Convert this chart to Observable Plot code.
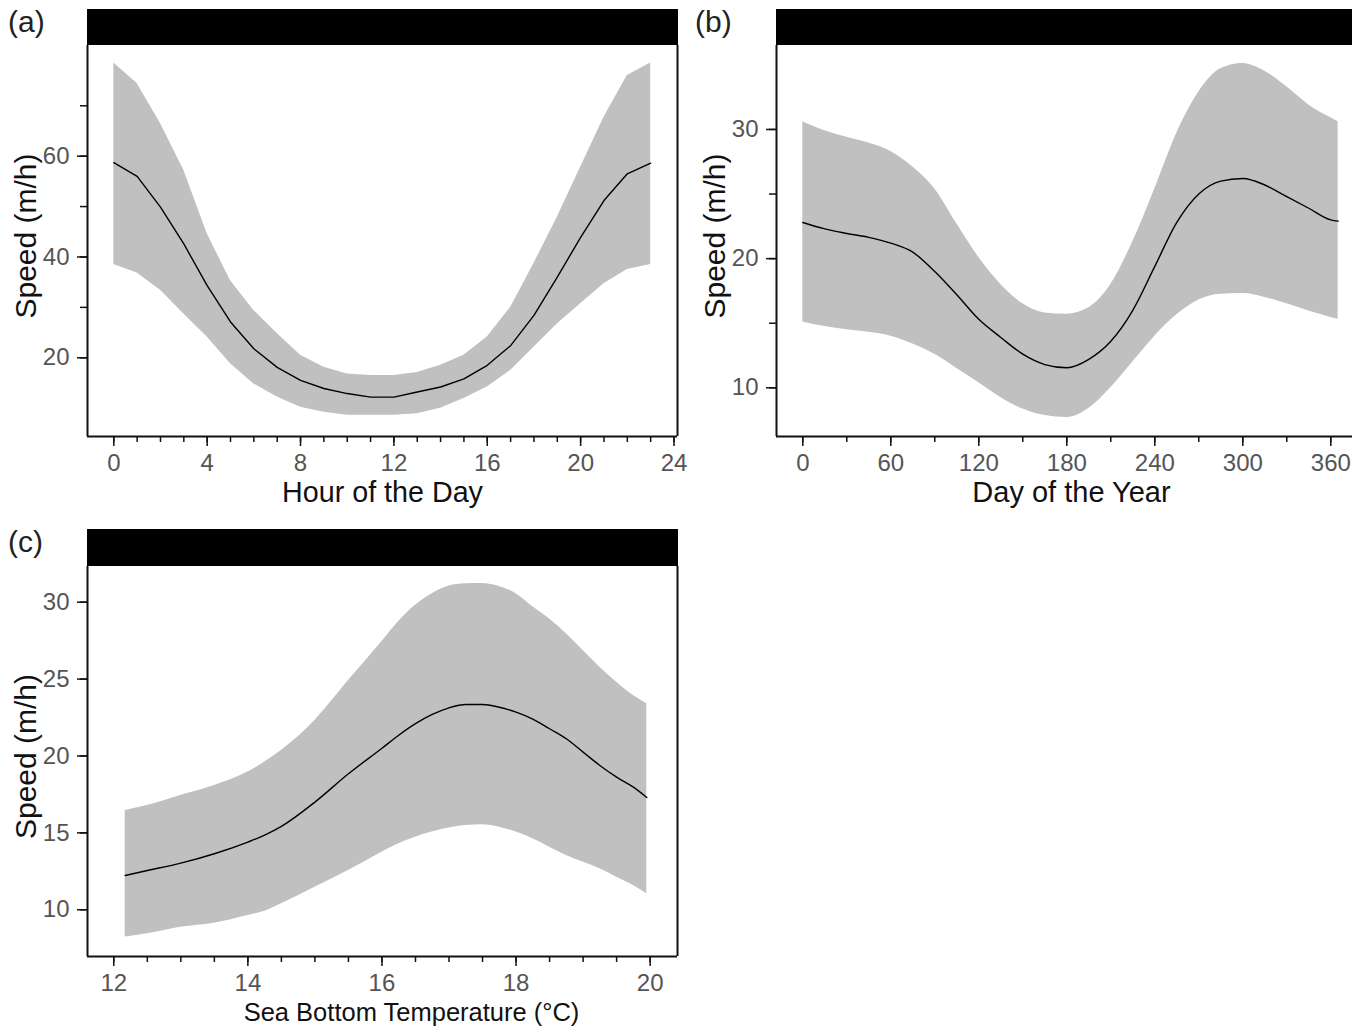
<!DOCTYPE html>
<html>
<head>
<meta charset="utf-8">
<script src="https://cdn.jsdelivr.net/npm/d3@7"></script>
<script src="https://cdn.jsdelivr.net/npm/@observablehq/plot@0.6"></script>
<style>
  html, body { margin: 0; padding: 0; background: #fff; }
  #fig { position: relative; width: 1369px; height: 1033px; overflow: hidden; font-family: "Liberation Sans", Arial, sans-serif; }
  .panel { position: absolute; }
  .strip { position: absolute; background: #000; }
  .tag { position: absolute; font-size: 30px; color: #222; line-height: normal; }
</style>
</head>
<body>
<div id="fig"></div>
<script>
// ---------- Panel (a): Hour of the Day ----------
const hours = [0,1,2,3,4,5,6,7,8,9,10,11,12,13,14,15,16,17,18,19,20,21,22,23];
const hourMean  = [58.7,56.0,49.9,42.6,34.3,27.1,21.8,18.1,15.5,13.9,12.9,12.2,12.2,13.2,14.2,15.8,18.5,22.4,28.4,36.0,43.9,51.2,56.5,58.6];
const hourUpper = [78.5,74.4,66.5,57.2,44.6,35.3,29.4,24.8,20.5,18.1,16.8,16.5,16.5,17.1,18.5,20.5,24.1,30.0,38.7,47.9,57.8,67.7,76.0,78.5];
const hourLower = [38.5,36.8,33.4,28.7,24.1,18.8,14.8,12.2,10.2,9.2,8.6,8.6,8.6,8.9,10.0,11.9,14.2,17.5,22.1,26.7,30.7,34.7,37.5,38.5];
const hourTicksMajor = [0,4,8,12,16,20,24];
const hourTicksMinor = d3.range(0, 25, 1);
const speedTicksA_major = [20,40,60];
const speedTicksA_minor = [20,30,40,50,60,70];

// ---------- Panel (b): Day of the Year ----------
const days = [0,15,30,45,60,75,90,105,120,135,150,165,180,195,210,225,240,255,270,285,300,315,330,345,360,365];
const dayMean  = [22.8,22.3,21.95,21.65,21.2,20.5,19.0,17.2,15.3,13.9,12.6,11.8,11.55,12.2,13.6,16.0,19.4,22.8,25.0,26.0,26.2,25.7,24.8,23.9,23.0,22.9];
const dayUpper = [30.6,29.9,29.4,28.95,28.3,27.1,25.4,22.7,20.1,18.0,16.5,15.8,15.7,16.2,18.0,21.3,25.4,29.7,32.9,34.7,35.1,34.5,33.3,31.9,30.9,30.6];
const dayLower = [15.1,14.75,14.5,14.3,14.0,13.4,12.6,11.5,10.4,9.25,8.35,7.85,7.7,8.4,10.0,12.0,14.0,15.65,16.8,17.25,17.3,17.0,16.5,15.95,15.45,15.3];
const dayTicksMajor = [0,60,120,180,240,300,360];
const dayTicksMinor = d3.range(0, 361, 30);
const speedTicksB_major = [10,20,30];
const speedTicksB_minor = [10,15,20,25,30];

// ---------- Panel (c): Sea Bottom Temperature ----------
const temps = [12.17,12.5,13,13.5,14,14.25,14.5,15,15.5,16,16.25,16.5,16.75,17,17.25,17.5,17.75,18,18.25,18.5,18.75,19,19.25,19.5,19.75,19.95];
const tempMean  = [12.23,12.55,13.03,13.64,14.40,14.85,15.42,17.0,18.84,20.5,21.35,22.1,22.7,23.13,23.35,23.35,23.17,22.85,22.4,21.77,21.12,20.25,19.38,18.62,17.97,17.3];
const tempUpper = [16.46,16.78,17.43,18.08,18.95,19.6,20.36,22.31,24.9,27.45,28.75,29.8,30.55,31.05,31.2,31.22,31.02,30.55,29.7,28.9,27.94,26.86,25.77,24.8,23.93,23.4];
const tempLower = [8.22,8.44,8.87,9.13,9.63,9.9,10.39,11.47,12.55,13.74,14.29,14.72,15.05,15.31,15.48,15.52,15.37,15.05,14.62,14.07,13.53,13.10,12.66,12.12,11.58,11.04];
const tempTicksMajor = [12,14,16,18,20];
const tempTicksMinor = d3.range(12, 20.01, 0.5);
const speedTicksC = [10,15,20,25,30];

const FONT = '"Liberation Sans", Arial, sans-serif';
const BAND = "#c0c0c0";
const TICK_FILL = "#555";
const TITLE_FILL = "#111";

function panel({rows, xDomain, yDomain, xMajor, xMinor, yMajor, yMinor, xTitle, xTitleDx, xTitleSize, curve,
                width, height, margins, rightLine}) {
  const marks = [
    Plot.areaY(rows, {x: "x", y1: "lo", y2: "hi", fill: BAND, curve}),
    Plot.lineY(rows, {x: "x", y: "mean", stroke: "#000", strokeWidth: 1.4, curve}),
    Plot.ruleX([xDomain[0]], {stroke: "#111", strokeWidth: 2}),
    Plot.ruleY([yDomain[0]], {stroke: "#111", strokeWidth: 2}),
    Plot.axisX({ticks: xMinor, tickSize: 6, tickFormat: () => "", label: null, stroke: "#111", strokeWidth: 1.5}),
    Plot.axisX({ticks: xMajor, tickSize: 10, tickPadding: 7, label: null, fontSize: 24, fill: TICK_FILL, stroke: "#111", strokeWidth: 1.5}),
    Plot.axisY({ticks: yMinor, tickSize: 7, tickFormat: () => "", label: null, stroke: "#111", strokeWidth: 1.5}),
    Plot.axisY({ticks: yMajor, tickSize: 10, tickPadding: 8, label: null, fontSize: 24, fill: TICK_FILL, stroke: "#111", strokeWidth: 1.5}),
    Plot.text([xTitle], {frameAnchor: "bottom", lineAnchor: "middle", textAnchor: "middle", dy: 56, dx: xTitleDx, fontSize: xTitleSize, fill: TITLE_FILL}),
    Plot.text(["Speed (m/h)"], {frameAnchor: "left", lineAnchor: "middle", textAnchor: "middle", dx: -61, dy: -5, rotate: -90, fontSize: 30, fill: TITLE_FILL})
  ];
  if (rightLine) marks.push(Plot.ruleX([xDomain[1]], {stroke: "#111", strokeWidth: 2}));
  return Plot.plot({
    width, height,
    marginLeft: margins[0], marginRight: margins[1], marginTop: margins[2], marginBottom: margins[3],
    x: {domain: xDomain},
    y: {domain: yDomain},
    style: {fontFamily: FONT, background: "transparent", overflow: "visible"},
    marks
  });
}

const fig = document.getElementById("fig");
function place(el, left, top) {
  el.classList.add("panel");
  el.style.left = left + "px";
  el.style.top = top + "px";
  fig.appendChild(el);
}
function strip(left, top, w, h) {
  const d = document.createElement("div");
  d.className = "strip";
  Object.assign(d.style, {left: left + "px", top: top + "px", width: w + "px", height: h + "px"});
  fig.appendChild(d);
}
function tag(txt, left, top) {
  const d = document.createElement("div");
  d.className = "tag";
  d.textContent = txt;
  Object.assign(d.style, {left: left + "px", top: top + "px"});
  fig.appendChild(d);
}

const rowsA = hours.map((x, i) => ({x, mean: hourMean[i], hi: hourUpper[i], lo: hourLower[i]}));
const rowsB = days.map((x, i) => ({x, mean: dayMean[i], hi: dayUpper[i], lo: dayLower[i]}));
const rowsC = temps.map((x, i) => ({x, mean: tempMean[i], hi: tempUpper[i], lo: tempLower[i]}));

place(panel({
  rows: rowsA, xDomain: [-1.127, 24.15], yDomain: [4.38, 81.96],
  xMajor: hourTicksMajor, xMinor: hourTicksMinor, yMajor: speedTicksA_major, yMinor: speedTicksA_minor,
  xTitle: "Hour of the Day", xTitleDx: 0, xTitleSize: 28.7, curve: "linear",
  width: 690, height: 520, margins: [87, 13, 45, 84], rightLine: true
}), 0, 0);

place(panel({
  rows: rowsB, xDomain: [-17.93, 374.8], yDomain: [6.23, 36.5],
  xMajor: dayTicksMajor, xMinor: dayTicksMinor, yMajor: speedTicksB_major, yMinor: speedTicksB_minor,
  xTitle: "Day of the Year", xTitleDx: 7, xTitleSize: 29, curve: "monotone-x",
  width: 680, height: 520, margins: [87, 17, 45, 84], rightLine: false
}), 689, 0);

place(panel({
  rows: rowsC, xDomain: [11.608, 20.408], yDomain: [6.96, 32.32],
  xMajor: tempTicksMajor, xMinor: tempTicksMinor, yMajor: speedTicksC, yMinor: speedTicksC,
  xTitle: "Sea Bottom Temperature (°C)", xTitleDx: 29, xTitleSize: 25.5, curve: "monotone-x",
  width: 690, height: 513, margins: [87, 13, 46, 77], rightLine: true
}), 0, 520);

strip(87, 9, 591, 36);
strip(776, 9, 576, 36);
strip(87, 529, 591, 37);
tag("(a)", 8, 5);
tag("(b)", 695, 5);
tag("(c)", 8, 525);
</script>
</body>
</html>
